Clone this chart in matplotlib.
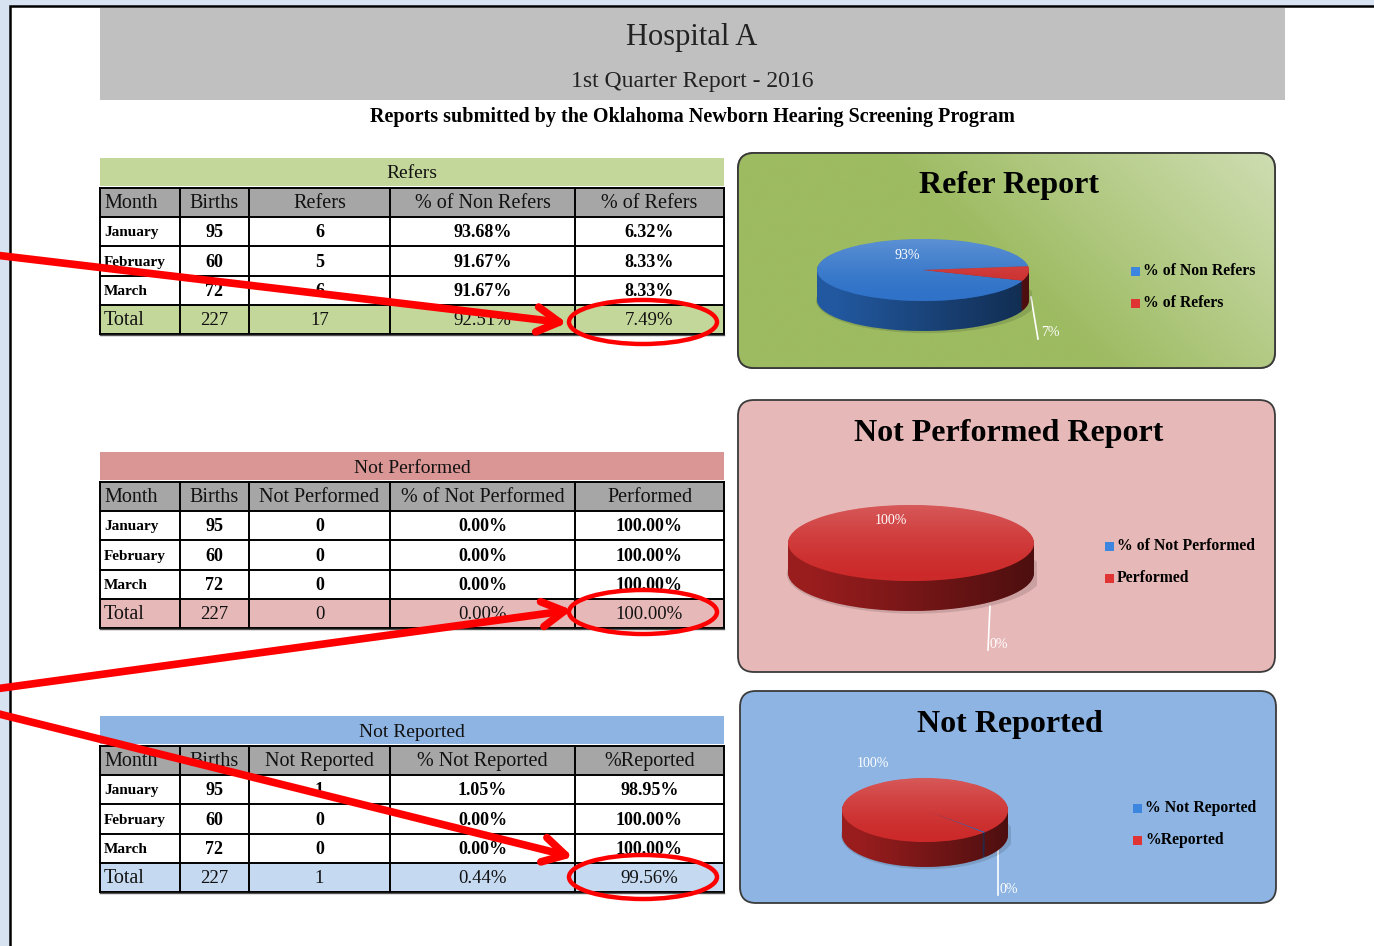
import numpy as np
import matplotlib
matplotlib.use("Agg")
import matplotlib.pyplot as plt
from matplotlib.patches import Rectangle, FancyBboxPatch, Ellipse, Polygon

plt.rcParams['font.family'] = ['Liberation Serif', 'DejaVu Serif']

# ---- data ----
months = ['January', 'February', 'March']
births = [95, 60, 72]
births_total = 227

refers = [6, 5, 6]
pct_non_refers = [93.68, 91.67, 91.67]
pct_refers = [6.32, 8.33, 8.33]
refers_total = [17, 92.51, 7.49]

not_performed = [0, 0, 0]
pct_not_performed = [0.00, 0.00, 0.00]
performed = [100.00, 100.00, 100.00]
not_performed_total = [0, 0.00, 100.00]

not_reported = [1, 0, 0]
pct_not_reported = [1.05, 0.00, 0.00]
pct_reported = [98.95, 100.00, 100.00]
not_reported_total = [1, 0.44, 99.56]

refer_pie = [92.51, 7.49]
performed_pie = [0.00, 100.00]
reported_pie = [0.44, 99.56]

W, H = 1374, 946
fig = plt.figure(figsize=(W / 100, H / 100), dpi=100)
fig.patch.set_facecolor('#d8e3f1')
ax = fig.add_axes([0, 0, 1, 1])
ax.set_xlim(0, W)
ax.set_ylim(H, 0)
ax.axis('off')

# page
ax.add_patch(Rectangle((10, 6), W, H, fc='white', ec='black', lw=1.8, zorder=0))

# header
ax.add_patch(Rectangle((100, 8), 1185, 92, fc='#c0c0c0', ec='none'))
ax.text(692, 37, 'Hospital A', ha='center', va='center', fontsize=22, color='#222222')
ax.text(692, 82, '1st Quarter Report - 2016', ha='center', va='center', fontsize=17, color='#222222')
ax.text(692, 117, 'Reports submitted by the Oklahoma Newborn Hearing Screening Program',
        ha='center', va='center', fontsize=14.5, fontweight='bold')

cols = [100, 180, 249, 390, 575, 724]


def pct(v):
    return f'{v:.2f}%'


def draw_table(top, title, band_color, total_color, headers, counts, p1, p2, total):
    ax.add_patch(Rectangle((100, top), 624, 28, fc=band_color, ec='none'))
    ax.text(412, top + 16, title, ha='center', va='center', fontsize=14, color='#111111')
    y0 = top + 30
    rh = 29.2
    bottoms = [y0 + rh * i for i in range(6)]
    ax.add_patch(Rectangle((100, y0), 624, rh, fc='#a6a6a6', ec='none'))
    ax.add_patch(Rectangle((100, y0 + rh * 4), 624, rh, fc=total_color, ec='none'))
    for y in bottoms:
        ax.plot([100, 724], [y, y], color='black', lw=1.4)
    for x in cols:
        ax.plot([x, x], [y0, bottoms[-1]], color='black', lw=1.4)
    ax.plot([100, 724], [bottoms[-1] + 1, bottoms[-1] + 1], color='#555555', lw=1)
    centers = [(cols[i] + cols[i + 1]) / 2 for i in range(5)]
    for i, hd in enumerate(headers):
        if i == 0:
            ax.text(104, y0 + rh / 2 + 1, hd, ha='left', va='center', fontsize=14.5, color='#111111')
        else:
            ax.text(centers[i], y0 + rh / 2 + 1, hd, ha='center', va='center', fontsize=14.5,
                    color='#111111')
    for r in range(3):
        yc = y0 + rh * (r + 1.5) + 1
        ax.text(104, yc, months[r], ha='left', va='center', fontsize=11, fontweight='bold')
        vals = [str(births[r]), str(counts[r]), pct(p1[r]), pct(p2[r])]
        for i, v in enumerate(vals):
            ax.text(centers[i + 1], yc, v, ha='center', va='center', fontsize=13, fontweight='bold')
    yc = y0 + rh * 4.5 + 1
    ax.text(104, yc, 'Total', ha='left', va='center', fontsize=14.5, color='#111111')
    vals = [str(births_total), str(total[0]), pct(total[1]), pct(total[2])]
    for i, v in enumerate(vals):
        ax.text(centers[i + 1], yc, v, ha='center', va='center', fontsize=13.5, color='#111111')


draw_table(158, 'Refers', '#c4d79b', '#c4d79b',
           ['Month', 'Births', 'Refers', '% of Non Refers', '% of Refers'],
           refers, pct_non_refers, pct_refers, refers_total)
draw_table(452, 'Not Performed', '#da9694', '#e6b8b7',
           ['Month', 'Births', 'Not Performed', '% of Not Performed', 'Performed'],
           not_performed, pct_not_performed, performed, not_performed_total)
draw_table(716, 'Not Reported', '#8db4e2', '#c5d9f1',
           ['Month', 'Births', 'Not Reported', '% Not Reported', '%Reported'],
           not_reported, pct_not_reported, pct_reported, not_reported_total)


# ---- chart boxes ----
def chart_box(x, y, w, h, c_dark, c_light=None):
    box = FancyBboxPatch((x, y), w, h, boxstyle='round,pad=0,rounding_size=16',
                         fc=c_dark, ec='#3a3a3a', lw=1.3, zorder=1)
    ax.add_patch(box)
    if c_light is not None:
        xx, yy = np.meshgrid(np.linspace(0, 1, 200), np.linspace(0, 1, 100))
        t = np.clip(1.1 * xx + 0.45 * (1 - yy) - 0.75, 0, 1)
        a = np.array(matplotlib.colors.to_rgb(c_dark))
        b = np.array(matplotlib.colors.to_rgb(c_light))
        img = a[None, None, :] * (1 - t[..., None]) + b[None, None, :] * t[..., None]
        im = ax.imshow(img, extent=(x, x + w, y + h, y), origin='upper', zorder=1.1,
                       interpolation='bilinear')
        im.set_clip_path(box)
        ax.add_patch(FancyBboxPatch((x, y), w, h, boxstyle='round,pad=0,rounding_size=16',
                                    fc='none', ec='#3a3a3a', lw=1.3, zorder=1.2))


chart_box(738, 153, 537, 215, '#9dbb61', '#dbe6c6')
chart_box(738, 400, 537, 272, '#e6b8b7')
chart_box(740, 691, 536, 212, '#8db4e2')
ax.set_aspect('auto')
ax.set_xlim(0, W)
ax.set_ylim(H, 0)

ax.text(1009, 186, 'Refer Report', ha='center', va='center', fontsize=23, fontweight='bold', zorder=3)
ax.text(1009, 433, 'Not Performed Report', ha='center', va='center', fontsize=23, fontweight='bold', zorder=3)
ax.text(1010, 724, 'Not Reported', ha='center', va='center', fontsize=23, fontweight='bold', zorder=3)

blue_top, blue_side = '#2f72c8', '#22589f'
red_top, red_side = '#cc2a2a', '#9a1d1e'


def draw_pie(cx, cy, rx, ry, depth, values, start):
    pad = 3
    axp = fig.add_axes([(cx - rx - pad) / W, 1 - (cy + ry + depth + pad) / H,
                        (2 * rx + 2 * pad) / W, (2 * ry + depth + 2 * pad) / H])
    d = depth / ry
    axp.add_patch(Ellipse((0.03, -d - 0.02), 2.08, 2.1, fc='#000000', alpha=0.12, lw=0))
    for k in np.linspace(d, 0.02, 24):
        axp.pie(values, colors=[blue_side, red_side], startangle=start,
                center=(0, -k), radius=1, wedgeprops=dict(linewidth=0))
    # side shading: lighter on the left, darker on the right
    t = np.linspace(0, np.pi, 80)
    side = np.concatenate([np.c_[-np.cos(t), -np.sin(t)],
                           np.c_[np.cos(t), -np.sin(t) - d]])
    side_clip = Polygon(side, closed=True, transform=axp.transData)
    xs = np.linspace(0, 1, 100)[None, :] * np.ones((10, 1))
    sh = np.zeros((10, 100, 4))
    sh[..., 3] = np.clip(0.55 * xs - 0.05, 0, 1)
    im = axp.imshow(sh, extent=(-1, 1, -1 - d, 0), origin='upper', zorder=1.5)
    im.set_clip_path(side_clip)
    axp.pie(values, colors=[blue_top, red_top], startangle=start,
            center=(0, 0), radius=1, wedgeprops=dict(linewidth=0, zorder=2))
    yy = np.linspace(0, 1, 60)[:, None] * np.ones((1, 10))
    shade = np.zeros((60, 10, 4))
    shade[..., :3] = 1
    shade[..., 3] = 0.22 * (1 - yy) ** 1.5
    im = axp.imshow(shade, extent=(-1, 1, -1, 1), origin='upper', zorder=5)
    clip = Ellipse((0, 0), 2, 2, transform=axp.transData)
    im.set_clip_path(clip)
    axp.set_aspect('auto')
    axp.set_xlim(-1 - pad / rx, 1 + pad / rx)
    axp.set_ylim(-1 - d - pad / ry, 1 + pad / ry)
    axp.axis('off')


draw_pie(923, 270, 106, 31, 30, refer_pie, 7)
draw_pie(911, 543, 123, 38, 30, performed_pie, -90)
draw_pie(925, 810, 83, 32, 25, reported_pie, -45)


# pie labels go on the figure so they sit above the pie axes
def fig_text(x, y, s, **kw):
    fig.text(x / W, 1 - y / H, s, **kw)


lab = dict(fontsize=10, color='white', va='center')
fig_text(907, 255, f'{round(refer_pie[0])}%', ha='center', **lab)
ax.plot([1031, 1038], [297, 339], color='white', lw=1.2, zorder=4)
fig_text(1041, 333, f'{round(refer_pie[1])}%', ha='left', **lab)
fig_text(891, 521, f'{round(performed_pie[1])}%', ha='center', **lab)
ax.plot([990, 988], [606, 650], color='white', lw=1.2, zorder=4)
fig_text(989, 645, f'{round(performed_pie[0])}%', ha='left', **lab)
fig_text(873, 763, f'{round(reported_pie[1])}%', ha='center', **lab)
ax.plot([998, 998], [848, 895], color='white', lw=1.2, zorder=4)
fig_text(1000, 889, f'{round(reported_pie[0])}%', ha='left', **lab)


def legend(x, y, names):
    for i, (nm, c) in enumerate(zip(names, ['#3d86e0', '#e03434'])):
        yc = y + 32 * i
        ax.add_patch(Rectangle((x, yc - 4.5), 9, 9, fc=c, ec='none', zorder=4))
        ax.text(x + 12, yc, nm, ha='left', va='center', fontsize=11.3, fontweight='bold', zorder=4)


legend(1131, 271, ['% of Non Refers', '% of Refers'])
legend(1105, 546, ['% of Not Performed', 'Performed'])
legend(1133, 808, ['% Not Reported', '%Reported'])

# ---- red call-out arrows and circles ----
arrow = dict(arrowstyle='->,head_length=1.6,head_width=0.9', color='#ff0000', lw=5.5,
             shrinkA=0, shrinkB=0, capstyle='round')
for start, tip in [((-5, 255), (567, 323)), ((-5, 689), (572, 610)), ((-5, 713), (573, 857))]:
    ax.annotate('', xy=tip, xytext=start, arrowprops=arrow, zorder=6)
for yc in [322, 612, 877]:
    ax.add_patch(Ellipse((643, yc), 148, 44, fc='none', ec='#ff0000', lw=3.2, zorder=6))

fig.savefig('out.png', dpi=100, facecolor=fig.get_facecolor())
